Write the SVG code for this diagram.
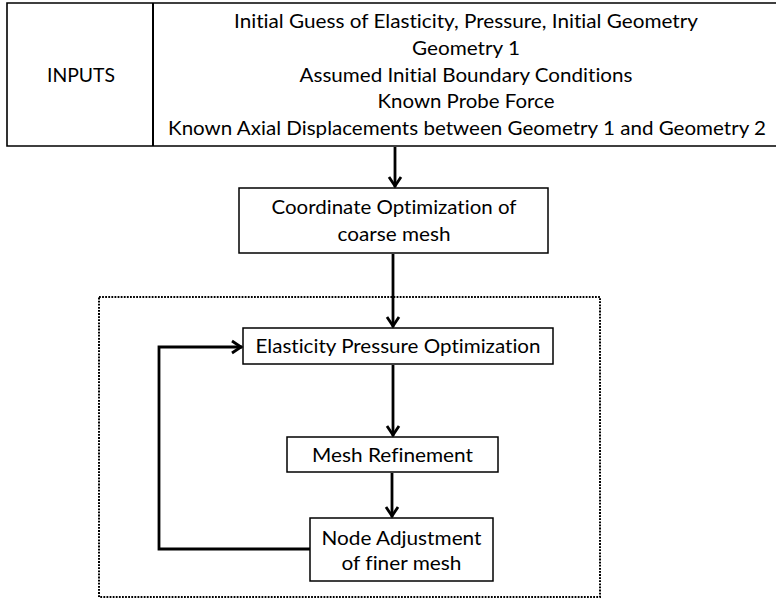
<svg xmlns="http://www.w3.org/2000/svg" width="776" height="603" viewBox="0 0 776 603">
<defs>
<style>
text{font-family:Lato,"Open Sans","Liberation Sans",sans-serif;font-size:20px;fill:#000;text-anchor:middle;font-variant-ligatures:none}
.box{fill:#fff;stroke:#000;stroke-width:1.5}
.conn{fill:none;stroke:#000;stroke-width:2.8}
.dot{fill:none;stroke:#000;stroke-width:2;stroke-dasharray:1.8 1.3}
</style>
<marker id="arr" markerUnits="userSpaceOnUse" markerWidth="16" markerHeight="16" viewBox="-12 -8 14 16" refX="0" refY="0" orient="auto">
<path d="M-10,-6 L-1,0 L-10,6" fill="none" stroke="#000" stroke-width="2.8" stroke-linejoin="miter"/>
</marker>
</defs>
<rect width="776" height="603" fill="#fff"/>
<rect class="dot" x="99" y="297" width="501" height="300"/>
<g id="inputs">
<path d="M776,3 H7 V146 H776" fill="none" stroke="#000" stroke-width="1.6"/>
<line x1="153" y1="3" x2="153" y2="146" stroke="#000" stroke-width="2"/>
<text x="81" y="82" textLength="68" lengthAdjust="spacingAndGlyphs">INPUTS</text>
<text x="466" y="28" textLength="464" lengthAdjust="spacingAndGlyphs">Initial Guess of Elasticity, Pressure, Initial Geometry</text>
<text x="466" y="55" textLength="108" lengthAdjust="spacingAndGlyphs">Geometry 1</text>
<text x="466" y="82" textLength="333" lengthAdjust="spacingAndGlyphs">Assumed Initial Boundary Conditions</text>
<text x="466" y="108" textLength="177" lengthAdjust="spacingAndGlyphs">Known Probe Force</text>
<text x="467" y="135" textLength="598" lengthAdjust="spacingAndGlyphs">Known Axial Displacements between Geometry 1 and Geometry 2</text>
</g>
<g id="coord">
<rect class="box" x="239" y="188" width="309" height="65"/>
<text x="394" y="214" textLength="245" lengthAdjust="spacingAndGlyphs">Coordinate Optimization of</text>
<text x="394" y="241" textLength="113" lengthAdjust="spacingAndGlyphs">coarse mesh</text>
</g>
<g id="elastic">
<rect class="box" x="243" y="328" width="310" height="36"/>
<text x="398" y="353" textLength="285" lengthAdjust="spacingAndGlyphs">Elasticity Pressure Optimization</text>
</g>
<g id="mesh">
<rect class="box" x="287" y="437" width="211" height="35"/>
<text x="392.5" y="462" textLength="161" lengthAdjust="spacingAndGlyphs">Mesh Refinement</text>
</g>
<g id="node">
<rect class="box" x="310" y="518" width="183" height="63"/>
<text x="401.5" y="545" textLength="160" lengthAdjust="spacingAndGlyphs">Node Adjustment</text>
<text x="401.5" y="570" textLength="120" lengthAdjust="spacingAndGlyphs">of finer mesh</text>
</g>
<g id="connectors">
<path class="conn" d="M395,147 V187" marker-end="url(#arr)"/>
<path class="conn" d="M393,254 V327" marker-end="url(#arr)"/>
<path class="conn" d="M393,365 V436" marker-end="url(#arr)"/>
<path class="conn" d="M392,473 V517" marker-end="url(#arr)"/>
<path class="conn" d="M310,549 H159 V347 H242" marker-end="url(#arr)"/>
</g>
</svg>
